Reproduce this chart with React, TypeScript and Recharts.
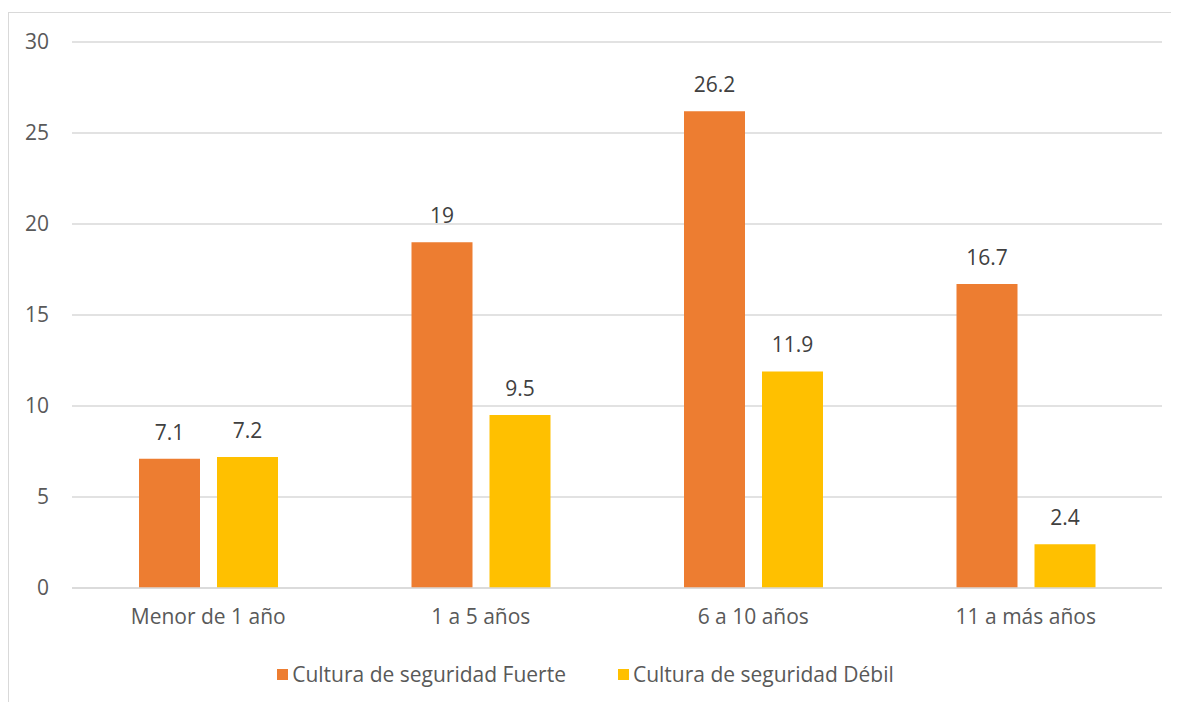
import React from 'react';
import { BarChart, Bar, XAxis, YAxis, CartesianGrid, Legend, LabelList } from 'recharts';

const categories = ['Menor de 1 año', '1 a 5 años', '6 a 10 años', '11 a más años'];
const fuerte = [7.1, 19, 26.2, 16.7];
const debil = [7.2, 9.5, 11.9, 2.4];
const yTicks = [0, 5, 10, 15, 20, 25, 30];
const seriesNames = ['Cultura de seguridad Fuerte', 'Cultura de seguridad Débil'];
const seriesColors = ['#ED7D31', '#FFC000'];

const data = categories.map((name, i) => ({ name, fuerte: fuerte[i], debil: debil[i] }));

const FONT = '"Open Sans", "Noto Sans", sans-serif';
const FS = 21;

const LegendBox = () => (
  <div style={{ display: 'flex', justifyContent: 'center', gap: 52, fontFamily: FONT, fontSize: FS, color: '#595959' }}>
    {seriesNames.map((n, i) => (
      <div key={n} style={{ display: 'flex', alignItems: 'center' }}>
        <span style={{ display: 'inline-block', width: 11, height: 11, background: seriesColors[i], marginRight: 4 }} />
        <span>{n}</span>
      </div>
    ))}
  </div>
);

const App = () => {
  return (
    <div
      style={{
        marginTop: 4,
        width: 1171,
        height: 690,
        borderTop: '1px solid #d9d9d9',
        borderLeft: '1px solid #d9d9d9',
        fontFamily: FONT,
      }}
    >
      <BarChart
        width={1170}
        height={689}
        data={data}
        margin={{ top: 29, right: 17, left: 0, bottom: 14 }}
        barSize={61}
        barGap={17}
      >
        <CartesianGrid vertical={false} stroke="#d9d9d9" strokeWidth={1.5} />
        <YAxis
          type="number"
          domain={[0, 30]}
          ticks={yTicks}
          width={63}
          axisLine={false}
          tickLine={false}
          tickSize={0}
          tickMargin={23}
          tick={{ fill: '#595959', fontSize: FS, fontFamily: FONT }}
        />
        <XAxis
          dataKey="name"
          axisLine={{ stroke: '#d9d9d9', strokeWidth: 1.5 }}
          tickLine={false}
          tickSize={0}
          tickMargin={21}
          height={72}
          tick={{ fill: '#595959', fontSize: FS, fontFamily: FONT }}
        />
        <Legend verticalAlign="bottom" content={() => <LegendBox />} />
        <Bar dataKey="fuerte" name={seriesNames[0]} fill={seriesColors[0]} isAnimationActive={false}>
          <LabelList dataKey="fuerte" position="top" offset={19} fill="#404040" fontSize={FS} fontFamily={FONT} />
        </Bar>
        <Bar dataKey="debil" name={seriesNames[1]} fill={seriesColors[1]} isAnimationActive={false}>
          <LabelList dataKey="debil" position="top" offset={19} fill="#404040" fontSize={FS} fontFamily={FONT} />
        </Bar>
      </BarChart>
    </div>
  );
};

export default App;
